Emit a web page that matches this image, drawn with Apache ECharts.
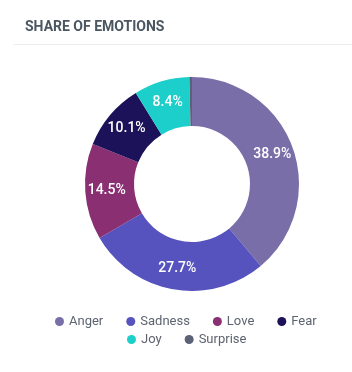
<!DOCTYPE html>
<html lang="en">
<head>
    <meta charset="UTF-8">
    <title>Share of emotions</title>
    <style>
        body { margin: 0; background: #fff; }
        #chart { width: 352px; height: 372px; }
    </style>
</head>
<body>
    <div id="chart"></div>
    <script src="https://cdn.jsdelivr.net/npm/echarts@6/dist/echarts.min.js"></script>
    <script>
        // data
        var emotions = ['Anger', 'Sadness', 'Love', 'Fear', 'Joy', 'Surprise'];
        var shares = [38.9, 27.7, 14.5, 10.1, 8.4, 0.4];
        var colors = ['#7a6ea9', '#5653bf', '#8a2f72', '#1c1259', '#1dcfca', '#5b6277'];

        var myChart = echarts.init(document.getElementById('chart'));

        var pieData = emotions.map(function (name, i) {
            var item = { name: name, value: shares[i] };
            // tiny slice gets no label
            if (shares[i] < 2) item.label = { show: false };
            return item;
        });

        var legendText = { color: '#5d6370', fontSize: 13, fontFamily: 'Roboto' };

        var option = {
            backgroundColor: '#fff',
            color: colors,
            title: {
                text: 'SHARE OF EMOTIONS',
                left: 20,
                top: 15,
                textStyle: {
                    color: '#4a5661',
                    fontSize: 14,
                    fontWeight: 'bold',
                    fontFamily: 'Roboto'
                }
            },
            graphic: [{
                type: 'line',
                shape: { x1: 14, y1: 44.5, x2: 352, y2: 44.5 },
                style: { stroke: '#ececee', lineWidth: 1 }
            }],
            legend: [{
                data: emotions.slice(0, 4),
                left: 50,
                top: 310,
                icon: 'circle',
                itemWidth: 9,
                itemHeight: 9,
                itemGap: 23,
                selectedMode: false,
                textStyle: legendText
            }, {
                data: emotions.slice(4),
                left: 122,
                top: 328,
                icon: 'circle',
                itemWidth: 9,
                itemHeight: 9,
                itemGap: 23,
                selectedMode: false,
                textStyle: legendText
            }],
            series: [{
                name: 'Emotions',
                type: 'pie',
                center: [192, 184],
                radius: [58, 107],
                startAngle: 90,
                clockwise: true,
                avoidLabelOverlap: false,
                animation: false,
                label: {
                    show: true,
                    position: 'inside',
                    color: '#fff',
                    fontSize: 14,
                    fontWeight: 500,
                    fontFamily: 'Roboto',
                    formatter: function (p) {
                        return p.value.toFixed(1) + '%';
                    }
                },
                labelLine: { show: false },
                emphasis: { scale: false },
                data: pieData
            }]
        };

        myChart.setOption(option);
    </script>
</body>
</html>
